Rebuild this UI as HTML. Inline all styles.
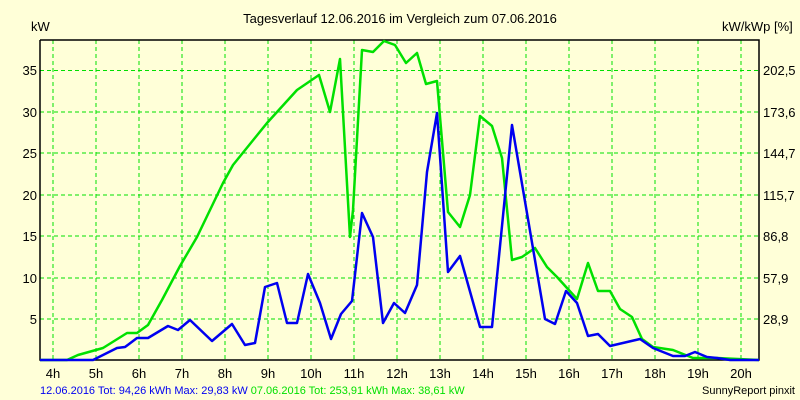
<!DOCTYPE html>
<html><head><meta charset="utf-8"><style>
html,body{margin:0;padding:0;background:#FFFFD8;}
svg{display:block;}
text{font-family:"Liberation Sans",sans-serif;fill:#000;}
</style></head><body>
<svg width="800" height="400" viewBox="0 0 800 400" xmlns="http://www.w3.org/2000/svg">
<rect width="800" height="400" fill="#FFFFD8"/>
<g stroke="#00E000" stroke-width="1" stroke-dasharray="4,3" fill="none">
<path d="M53 40V360M96 40V360M139 40V360M182 40V360M225 40V360M268 40V360M311 40V360M354 40V360M397 40V360M440 40V360M483 40V360M526 40V360M569 40V360M612 40V360M655 40V360M698 40V360M741 40V360"/>
<path d="M40 70.5H759M40 112H759M40 153H759M40 195H759M40 236H759M40 278H759M40 319H759"/>
</g>
<path d="M40 40V360H759V40H40" stroke="#000" stroke-width="1.5" fill="none"/>
<polyline fill="none" stroke="#00E000" stroke-width="2.5" stroke-linejoin="round" points="40,360 67,360 78,355 103,348 127,333 137,333 148,325 162,300 180,266 197,237 223,183 233,165 267,123 297,90 319,75 330,112 340,59 350,237 353,210 362,50 373,52 384,41 395,45 406,63 417,53 426,84 437,81 448,212 460,227 470,195 480,116 492,126 502,158 512,260 522,257 535,248 547,267 557,277 577,299 588,263 598,291 610,291 620,309 632,317 642,339 653,347 673,350 693,358 717,358 759,360"/>
<polyline fill="none" stroke="#0000F0" stroke-width="2.5" stroke-linejoin="round" points="40,360 93,360 117,348 125,347 137,338 148,338 168,326 178,330 190,320 212,341 232,324 245,345 255,343 265,287 277,283 287,323 297,323 308,274 320,303 331,339 341,314 352,301 362,213 373,237 383,323 394,303 405,313 417,285 427,172 437,113 448,272 460,256 480,327 492,327 512,125 545,319 555,324 566,291 577,303 588,336 598,334 610,346 640,339 653,348 673,356 685,356 695,352 707,357 717,358 730,360 759,360"/>
<g font-size="13" text-anchor="end">
<text x="37" y="75">35</text><text x="37" y="117">30</text><text x="37" y="158">25</text><text x="37" y="200">20</text><text x="37" y="241">15</text><text x="37" y="283">10</text><text x="37" y="324">5</text>
</g>
<g font-size="13">
<text x="763" y="75">202,5</text><text x="763" y="117">173,6</text><text x="763" y="158">144,7</text><text x="763" y="200">115,7</text><text x="763" y="241">86,8</text><text x="763" y="283">57,9</text><text x="763" y="324">28,9</text>
<text x="31" y="31">kW</text><text x="722" y="31">kW/kWp [%]</text>
</g>
<g font-size="13" text-anchor="middle">
<text x="53" y="378">4h</text><text x="96" y="378">5h</text><text x="139" y="378">6h</text><text x="182" y="378">7h</text><text x="225" y="378">8h</text><text x="268" y="378">9h</text><text x="311" y="378">10h</text><text x="354" y="378">11h</text><text x="397" y="378">12h</text><text x="440" y="378">13h</text><text x="483" y="378">14h</text><text x="526" y="378">15h</text><text x="569" y="378">16h</text><text x="612" y="378">17h</text><text x="655" y="378">18h</text><text x="698" y="378">19h</text><text x="741" y="378">20h</text>
<text x="400" y="23">Tagesverlauf 12.06.2016 im Vergleich zum 07.06.2016</text>
</g>
<text x="40" y="394" font-size="11"><tspan fill="#0000F0">12.06.2016 Tot: 94,26 kWh Max: 29,83 kW</tspan><tspan fill="#00E000"> 07.06.2016 Tot: 253,91 kWh Max: 38,61 kW</tspan></text>
<text x="795" y="394" font-size="11" text-anchor="end">SunnyReport pinxit</text>
</svg>
</body></html>
